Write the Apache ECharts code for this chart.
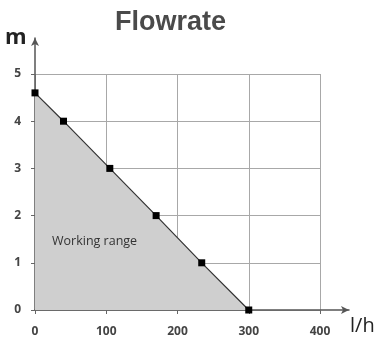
<!DOCTYPE html>
<html>
<head>
<meta charset="utf-8">
<script src="https://cdn.jsdelivr.net/npm/echarts@6/dist/echarts.min.js"></script>
<style>
  html, body { margin: 0; padding: 0; background: #fff; }
  #chart { width: 384px; height: 343px; }
</style>
</head>
<body>
<div id="chart"></div>
<script>
// Pump curve: head (m) versus flow (l/h)
const flowValues = [0, 40, 105, 170, 234, 300];
const headValues = [4.6, 4, 3, 2, 1, 0];
const xTicks = [0, 100, 200, 300, 400];
const yTicks = [0, 1, 2, 3, 4, 5];

const curve = flowValues.map((f, i) => [f, headValues[i]]);
const font = '"Open Sans", "Liberation Sans", sans-serif';

const chart = echarts.init(document.getElementById('chart'), null, { renderer: 'canvas' });
chart.setOption({
  animation: false,
  backgroundColor: '#fff',
  title: {
    text: 'Flowrate',
    left: 110,
    top: 4,
    textStyle: { fontFamily: '"Liberation Sans", Arial, sans-serif', fontWeight: 'bold', fontSize: 27, color: '#4a4a4a' }
  },
  grid: [
    { left: 35, right: 64, top: 74, bottom: 33 },
    { left: 35, right: 35, top: 38, bottom: 33 }
  ],
  xAxis: [
    {
      gridIndex: 0, type: 'value',
      min: xTicks[0], max: xTicks[xTicks.length - 1], interval: 100,
      axisLine: { show: false },
      axisTick: { show: true, length: 4, lineStyle: { color: '#666' } },
      axisLabel: { margin: 16, fontFamily: font, fontSize: 12, fontWeight: 'bold', color: '#444' },
      splitLine: { show: true, lineStyle: { color: '#a8a8a8', width: 1 } }
    },
    {
      gridIndex: 1, type: 'value', min: 0, max: 1,
      axisLine: { show: true, symbol: ['none', 'arrow'], symbolSize: [6, 8], lineStyle: { color: '#555', width: 1.5 } },
      axisTick: { show: false }, axisLabel: { show: false }, splitLine: { show: false }
    }
  ],
  yAxis: [
    {
      gridIndex: 0, type: 'value',
      min: yTicks[0], max: yTicks[yTicks.length - 1], interval: 1,
      axisLine: { show: false },
      axisTick: { show: true, length: 4, lineStyle: { color: '#666' } },
      axisLabel: { margin: 14, fontFamily: font, fontSize: 12, fontWeight: 'bold', color: '#444' },
      splitLine: { show: true, lineStyle: { color: '#a8a8a8', width: 1 } }
    },
    {
      gridIndex: 1, type: 'value', min: 0, max: 1,
      axisLine: { show: true, symbol: ['none', 'arrow'], symbolSize: [6, 8], lineStyle: { color: '#555', width: 1.5 } },
      axisTick: { show: false }, axisLabel: { show: false }, splitLine: { show: false }
    }
  ],
  series: [
    {
      type: 'line',
      xAxisIndex: 0, yAxisIndex: 0,
      data: curve,
      symbol: 'rect', symbolSize: 7,
      itemStyle: { color: '#000' },
      lineStyle: { color: '#333', width: 1.2 },
      areaStyle: { color: '#cfcfcf', opacity: 1 },
      z: 3
    }
  ],
  graphic: [
    {
      type: 'text', left: 52, top: 235, z: 10,
      style: { text: 'Working range', fontFamily: font, fontSize: 12.5, fill: '#333' }
    },
    {
      type: 'text', left: 5, top: 27, z: 10,
      style: { text: 'm', fontFamily: font, fontSize: 22, fontWeight: 'bold', fill: '#222' }
    },
    {
      type: 'text', left: 350, top: 316, z: 10,
      style: { text: 'l/h', fontFamily: font, fontSize: 20, fill: '#222' }
    }
  ]
});
</script>
</body>
</html>
